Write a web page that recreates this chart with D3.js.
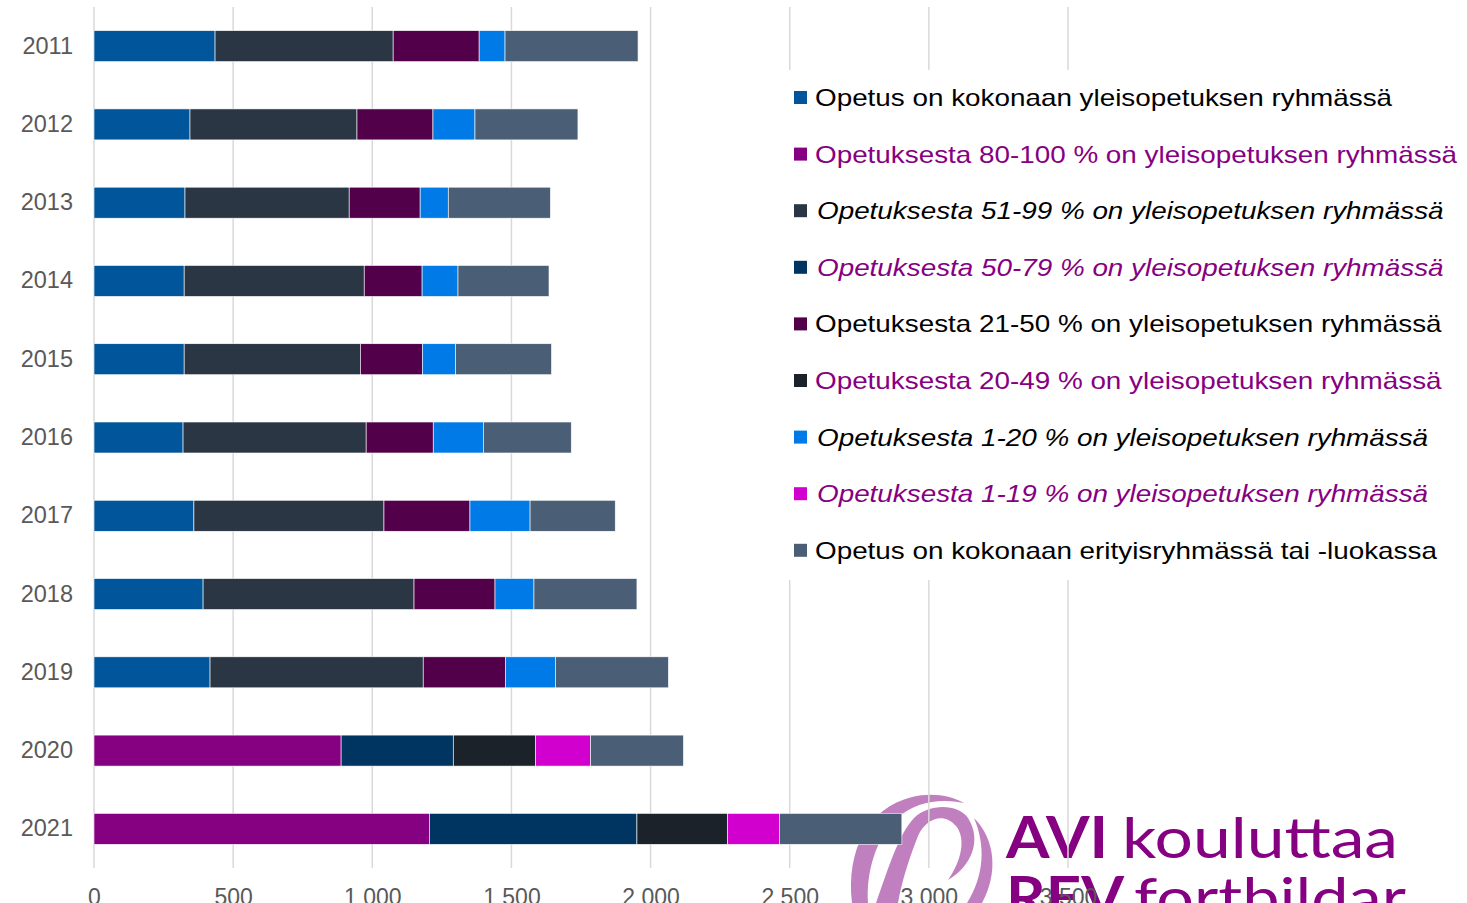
<!DOCTYPE html>
<html>
<head>
<meta charset="utf-8">
<script src="https://cdn.jsdelivr.net/npm/d3@7"></script>
<style>
  body { margin: 0; background: #fff; }
  svg { display: block; font-family: "Liberation Sans", Arial, sans-serif; }
</style>
</head>
<body>
<svg class="chart"></svg>
<script>
var years = ["2011", "2012", "2013", "2014", "2015", "2016", "2017", "2018", "2019", "2020", "2021"];

var seriesNames = [
  "Opetus on kokonaan yleisopetuksen ryhmässä",
  "Opetuksesta 80-100 % on yleisopetuksen ryhmässä",
  "Opetuksesta 51-99 % on yleisopetuksen ryhmässä",
  "Opetuksesta 50-79 % on yleisopetuksen ryhmässä",
  "Opetuksesta 21-50 % on yleisopetuksen ryhmässä",
  "Opetuksesta 20-49 % on yleisopetuksen ryhmässä",
  "Opetuksesta 1-20 % on yleisopetuksen ryhmässä",
  "Opetuksesta 1-19 % on yleisopetuksen ryhmässä",
  "Opetus on kokonaan erityisryhmässä tai -luokassa"
];

// one array per series, one value per year (0 = not in use that year)
var kokonaanYleis = [435, 345, 327, 324, 324, 320, 359, 392, 417, 0, 0];
var p80_100      = [0, 0, 0, 0, 0, 0, 0, 0, 0, 888, 1205];
var p51_99       = [640, 600, 590, 647, 633, 658, 683, 758, 766, 0, 0];
var p50_79       = [0, 0, 0, 0, 0, 0, 0, 0, 0, 403, 746];
var p21_50       = [309, 273, 255, 208, 223, 241, 309, 291, 295, 0, 0];
var p20_49       = [0, 0, 0, 0, 0, 0, 0, 0, 0, 295, 325];
var p1_20        = [93, 151, 101, 129, 119, 180, 216, 140, 180, 0, 0];
var p1_19        = [0, 0, 0, 0, 0, 0, 0, 0, 0, 198, 187];
var erityis      = [478, 370, 367, 327, 345, 316, 306, 370, 406, 334, 440];

var seriesValues = [kokonaanYleis, p80_100, p51_99, p50_79, p21_50, p20_49, p1_20, p1_19, erityis];

var xTicks = [0, 500, 1000, 1500, 2000, 2500, 3000, 3500];

var colors = ["#00559b", "#860082", "#2a3644", "#003562", "#52004a", "#1c2229", "#007ae6", "#d200cf", "#4a5e76"];
var textColors = ["#000", "#860082", "#000", "#860082", "#000", "#860082", "#000", "#860082", "#000"];
var italic = [false, false, true, true, false, false, true, true, false];

var width = 1467, height = 903;

var svg = d3.select(".chart")
    .attr("width", width)
    .attr("height", height);

// table for the stack
var table = years.map(function(y, i) {
  var row = {year: y};
  seriesNames.forEach(function(n, k) { row[n] = seriesValues[k][i]; });
  return row;
});

var stacked = d3.stack().keys(seriesNames)(table);

var x = d3.scaleLinear()
    .domain([0, 3500])
    .range([94, 1068]);

var y = d3.scaleBand()
    .domain(years)
    .range([7, 868])
    .paddingInner(0.604)
    .paddingOuter(0.302);

var fi = d3.formatLocale({decimal: ",", thousands: "\u00a0", grouping: [3]});

// logo in the background (bottom right)
var logo = svg.append("g").attr("class", "logo");
var swoosh = "#c07fbf";
logo.append("path")
    .attr("fill", swoosh)
    .attr("d", "M852,903 C846,850 868,808 912,797 C932,792 952,796 964,803 C940,798 915,802 897,818 C876,838 866,872 868,903 Z");
logo.append("path")
    .attr("fill", swoosh)
    .attr("d", "M876,903 C888,870 898,835 914,818 C930,803 958,804 968,818 C982,840 972,866 948,880 C962,860 966,838 956,826 C944,812 926,818 918,836 C910,856 902,880 898,903 Z");
logo.append("path")
    .attr("fill", swoosh)
    .attr("d", "M974,818 C996,840 998,874 982,903 L967,903 C984,876 986,846 974,818 Z");

logo.append("text")
    .attr("x", 1006)
    .attr("y", 858)
    .attr("fill", "#860082")
    .style("font-family", "Lato, 'Open Sans', sans-serif")
    .style("font-weight", "bold")
    .style("font-size", "57px")
    .attr("textLength", 102)
    .attr("lengthAdjust", "spacingAndGlyphs")
    .text("AVI");
logo.append("text")
    .attr("x", 1122)
    .attr("y", 858)
    .attr("fill", "#860082")
    .style("font-family", "Lato, 'Open Sans', sans-serif")
    .style("font-size", "57px")
    .attr("textLength", 276)
    .attr("lengthAdjust", "spacingAndGlyphs")
    .text("kouluttaa");
logo.append("text")
    .attr("x", 1006)
    .attr("y", 918)
    .attr("fill", "#860082")
    .style("font-family", "Lato, 'Open Sans', sans-serif")
    .style("font-weight", "bold")
    .style("font-size", "57px")
    .attr("textLength", 118)
    .attr("lengthAdjust", "spacingAndGlyphs")
    .text("REV");
logo.append("text")
    .attr("x", 1134)
    .attr("y", 918)
    .attr("fill", "#860082")
    .style("font-family", "Lato, 'Open Sans', sans-serif")
    .style("font-size", "57px")
    .attr("textLength", 272)
    .attr("lengthAdjust", "spacingAndGlyphs")
    .text("fortbildar");

// vertical gridlines
svg.append("g")
    .attr("class", "grid")
  .selectAll("line")
    .data(xTicks)
  .enter().append("line")
    .attr("x1", function(d) { return x(d); })
    .attr("x2", function(d) { return x(d); })
    .attr("y1", 7)
    .attr("y2", 868)
    .attr("stroke", "#d9d9d9")
    .attr("stroke-width", 1.5);

// bars
var layer = svg.selectAll("g.layer")
    .data(stacked)
  .enter().append("g")
    .attr("class", "layer")
    .attr("fill", function(d, i) { return colors[i]; });

layer.selectAll("rect")
    .data(function(d) { return d.filter(function(s) { return s[1] > s[0]; }); })
  .enter().append("rect")
    .attr("x", function(d) { return x(d[0]); })
    .attr("width", function(d) { return x(d[1]) - x(d[0]); })
    .attr("y", function(d) { return y(d.data.year); })
    .attr("height", y.bandwidth())
    .attr("stroke", "#fff")
    .attr("stroke-width", 0.6);

// y axis labels
var yAxis = d3.axisLeft(y).tickSize(0).tickPadding(21);
svg.append("g")
    .attr("class", "y axis")
    .attr("transform", "translate(94,0)")
    .call(yAxis)
    .call(function(g) { g.select(".domain").remove(); })
    .selectAll("text")
    .style("font-family", "'Liberation Sans', Arial, sans-serif")
    .style("font-size", "23.5px")
    .attr("fill", "#595959");

// x axis labels
var xAxis = d3.axisBottom(x)
    .tickValues(xTicks)
    .tickSize(0)
    .tickPadding(0)
    .tickFormat(fi.format(",d"));
svg.append("g")
    .attr("class", "x axis")
    .attr("transform", "translate(0,888)")
    .call(xAxis)
    .call(function(g) { g.select(".domain").remove(); })
    .selectAll("text")
    .attr("dy", "0.72em")
    .style("font-family", "'Liberation Sans', Arial, sans-serif")
    .style("font-size", "23px")
    .attr("fill", "#595959");

// legend on a white box that hides the grid behind it
svg.append("rect")
    .attr("x", 784)
    .attr("y", 70)
    .attr("width", width - 784)
    .attr("height", 510)
    .attr("fill", "#fff");

var legend = svg.append("g").attr("class", "legend")
  .selectAll("g")
    .data(seriesNames)
  .enter().append("g")
    .attr("transform", function(d, i) { return "translate(794," + (98 + i * 56.6) + ")"; });

legend.append("rect")
    .attr("x", 0)
    .attr("y", -7)
    .attr("width", 13)
    .attr("height", 13)
    .attr("fill", function(d, i) { return colors[i]; });

legend.append("text")
    .attr("transform", function(d, i) { return "translate(" + (italic[i] ? 23 : 21) + ",8) scale(1.16,1)"; })
    .style("font-size", "24px")
    .style("font-style", function(d, i) { return italic[i] ? "italic" : "normal"; })
    .attr("fill", function(d, i) { return textColors[i]; })
    .text(function(d) { return d; });
</script>
</body>
</html>
